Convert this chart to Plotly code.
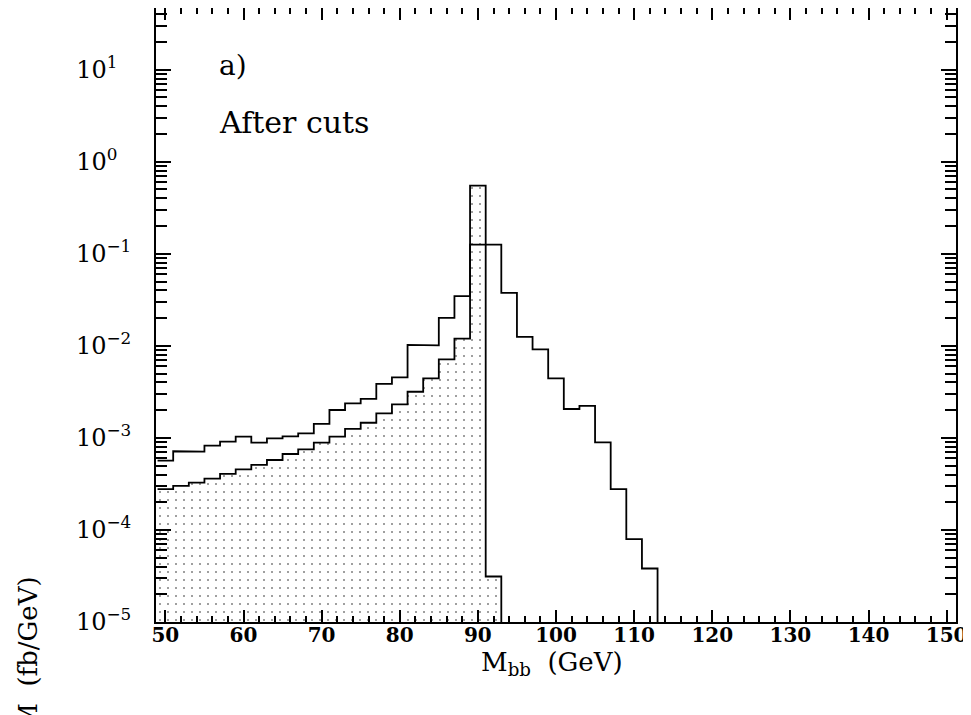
import plotly.graph_objects as go

# ---- data ----
bin_centers = list(range(50, 152, 2))          # 2 GeV bins, edges at odd numbers
bin_width = 2

upper_vals = [5.66e-4, 7.16e-4, 7.1e-4, 8.23e-4, 9.1e-4, 1.03e-3, 8.87e-4, 9.9e-4,
              1.04e-3, 1.12e-3, 1.42e-3, 2.01e-3, 2.37e-3, 2.66e-3, 3.87e-3, 4.54e-3,
              1.026e-2, 1.01e-2, 2.01e-2, 3.46e-2, 0.126, 0.126, 3.76e-2, 1.25e-2,
              9.14e-3, 4.43e-3, 2.06e-3, 2.23e-3, 8.96e-4, 2.77e-4, 7.95e-5, 3.81e-5]
upper_vals = upper_vals + [0.0] * (len(bin_centers) - len(upper_vals))

lower_vals = [2.77e-4, 3.01e-4, 3.27e-4, 3.61e-4, 4.06e-4, 4.56e-4, 5.08e-4, 5.75e-4,
              6.68e-4, 7.52e-4, 8.87e-4, 1.03e-3, 1.25e-3, 1.46e-3, 1.85e-3, 2.31e-3,
              3.17e-3, 4.43e-3, 7.11e-3, 1.20e-2, 0.55, 3.12e-5]
lower_vals = lower_vals + [0.0] * (len(bin_centers) - len(lower_vals))

y_tick_vals = [1e-5, 1e-4, 1e-3, 1e-2, 1e-1, 1e0, 1e1]
y_tick_exps = ["−5", "−4", "−3", "−2", "−1", "0", "1"]
x_tick_vals = [50, 60, 70, 80, 90, 100, 110, 120, 130, 140, 150]

FLOOR = 1e-9  # below visible range: zero bins drop to the axis


def step_path(centers, vals):
    xs, ys = [], []
    for c, v in zip(centers, vals):
        v = v if v > 0 else FLOOR
        xs += [c - bin_width / 2, c + bin_width / 2]
        ys += [v, v]
    return xs, ys


ux, uy = step_path(bin_centers, upper_vals)
lx, ly = step_path(bin_centers, lower_vals)

fig = go.Figure()

# dotted fill under the lower histogram
fx = [lx[0]] + lx + [lx[-1]]
fy = [FLOOR] + ly + [FLOOR]
fig.add_trace(go.Scatter(
    x=fx, y=fy, mode="lines", fill="toself", line=dict(width=0, color="rgba(0,0,0,0)"),
    fillcolor="rgba(0,0,0,0)",
    fillpattern=dict(shape=".", size=8, solidity=0.05, fgcolor="black",
                     bgcolor="rgba(0,0,0,0)", fillmode="overlay"),
    hoverinfo="skip"))

fig.add_trace(go.Scatter(x=lx, y=ly, mode="lines", line=dict(color="black", width=1.8),
                         hoverinfo="skip"))
fig.add_trace(go.Scatter(x=ux, y=uy, mode="lines", line=dict(color="black", width=1.8),
                         hoverinfo="skip"))

minor_y = [m * 10 ** e for e in range(-5, 2) for m in range(2, 10)]

FONT = "DejaVu Serif"

fig.update_xaxes(
    range=[48.8, 151.2], showgrid=False, zeroline=False, automargin=False,
    showline=True, linecolor="black", linewidth=2, mirror="ticks",
    ticks="inside", ticklen=12, tickwidth=1.5, tickcolor="black",
    tickvals=x_tick_vals, ticktext=[str(v) for v in x_tick_vals],
    tickfont=dict(family=FONT, size=20, color="black", weight="bold"),
    ticklabelstandoff=-6,
    minor=dict(dtick=2, tick0=50, ticks="inside", ticklen=6, tickwidth=1.5,
               tickcolor="black", showgrid=False),
)

fig.update_yaxes(
    type="log", range=[-5, 1.67], showgrid=False, zeroline=False, automargin=False,
    showline=True, linecolor="black", linewidth=2, mirror="ticks",
    ticks="inside", ticklen=15, tickwidth=1.5, tickcolor="black",
    tickvals=y_tick_vals,
    ticktext=["10<sup>%s</sup>" % e if e.startswith("−") else
              "10<sup>%s\u2002\u00a0</sup>" % e for e in y_tick_exps],
    tickfont=dict(family=FONT, size=24, color="black"),
    ticklabelstandoff=18,
    minor=dict(tickvals=minor_y, ticks="inside", ticklen=11, tickwidth=1.5,
               tickcolor="black", showgrid=False),
)

# the page body adds an 8 px offset; the figure is sized to the remaining window
fig.update_layout(
    width=963, height=707,
    margin=dict(l=148, r=15, t=0, b=93, autoexpand=False),
    plot_bgcolor="white", paper_bgcolor="white",
    showlegend=False,
    annotations=[
        dict(text="a)", xref="paper", yref="paper", x=0.0766, y=0.907,
             xanchor="left", yanchor="middle", showarrow=False,
             font=dict(family=FONT, size=28, color="black")),
        dict(text="After cuts", xref="paper", yref="paper", x=0.0766, y=0.814,
             xanchor="left", yanchor="middle", showarrow=False,
             font=dict(family=FONT, size=30, color="black")),
        dict(text="M<sub>bb</sub>  (GeV)", xref="paper", yref="paper", x=0.495, y=-0.068,
             xanchor="center", yanchor="middle", showarrow=False,
             font=dict(family=FONT, size=26, color="black")),
        dict(text="dσ/dM  (fb/GeV)", xref="paper", yref="paper", x=-0.1596, y=0.077,
             xanchor="center", yanchor="top", showarrow=False, textangle=-90,
             font=dict(family=FONT, size=26, color="black")),
    ],
)

fig.write_html("out.html")
